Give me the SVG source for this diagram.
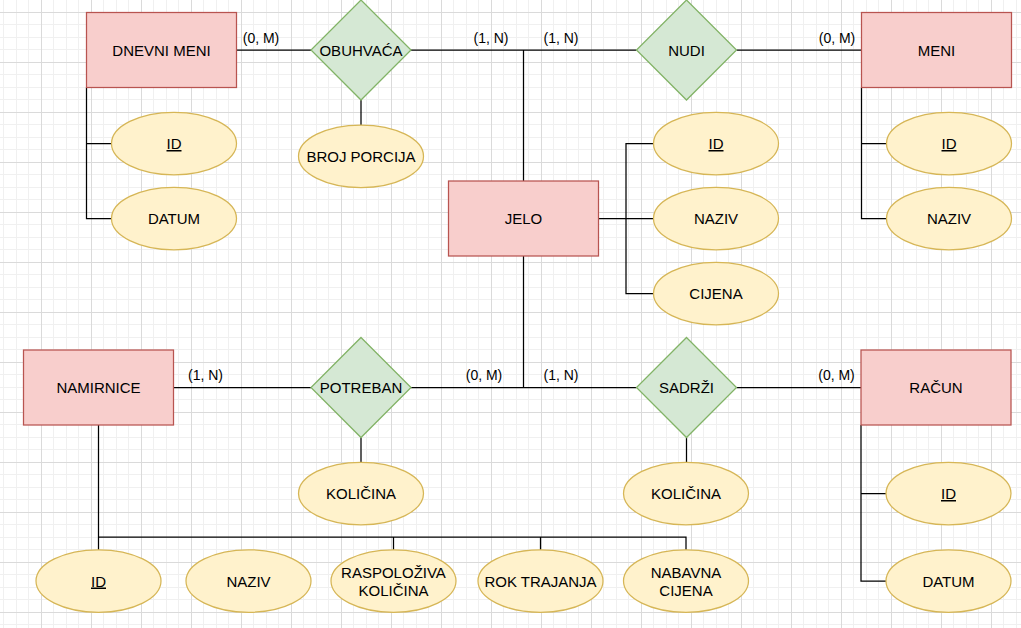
<svg xmlns="http://www.w3.org/2000/svg" width="1021" height="628" viewBox="0 0 1021 628">
<style>
.ent{fill:#f8cecc;stroke:#b85450;stroke-width:1.25}
.rel{fill:#d5e8d4;stroke:#82b366;stroke-width:1.25}
.att{fill:#fff2cc;stroke:#d6b656;stroke-width:1.25}
.t{font-family:"Liberation Sans",Arial,sans-serif;font-size:15px;fill:#000;text-anchor:middle}
.u{text-decoration:underline}
.lbl{font-family:"Liberation Sans",Arial,sans-serif;font-size:14px;fill:#000;text-anchor:middle}
#connectors path{fill:none;stroke:#000;stroke-width:1.25}
</style>
<defs>
<pattern id="grid" patternUnits="userSpaceOnUse" x="41" y="12" width="50" height="50">
<rect x="0" y="0" width="50" height="50" fill="#ffffff"/>
<rect x="12" y="0" width="1" height="50" fill="#f0f0f0"/>
<rect x="25" y="0" width="1" height="50" fill="#f0f0f0"/>
<rect x="37" y="0" width="1" height="50" fill="#f0f0f0"/>
<rect x="0" y="12" width="50" height="1" fill="#f0f0f0"/>
<rect x="0" y="25" width="50" height="1" fill="#f0f0f0"/>
<rect x="0" y="37" width="50" height="1" fill="#f0f0f0"/>
<rect x="0" y="0" width="1" height="50" fill="#dadada"/>
<rect x="0" y="0" width="50" height="1" fill="#dadada"/>
</pattern>
</defs>
<rect x="0" y="0" width="1021" height="628" fill="url(#grid)"/>

<g id="connectors">
<path d="M86.5,87.5 V218.5 H111.5 M86.5,143.5 H111.5"/>
<path d="M236.5,50 H311"/>
<path d="M361,100 V125"/>
<path d="M411,50 H636.5 M523.5,50 V181"/>
<path d="M736.5,50 H861.5"/>
<path d="M861.5,87.5 V218.5 H886.5 M861.5,143.5 H886.5"/>
<path d="M598.5,218.5 H653.5 M626,218.5 V143.5 H653.5 M626,218.5 V293.5 H653.5"/>
<path d="M523.5,256 V387.5"/>
<path d="M173.5,387.5 H311 M411,387.5 H636.5 M736.5,387.5 H861"/>
<path d="M361,437.5 V462.5 M686.5,437.5 V462.5"/>
<path d="M861,425 V581 H886 M861,493.5 H886"/>
<path d="M98.5,425 V550 M98.5,537 H686 V550 M393.5,537 V550 M540.5,537 V550"/>
</g>

<g id="labels">
<text class="lbl" x="261" y="43">(0, M)</text>
<text class="lbl" x="491" y="43">(1, N)</text>
<text class="lbl" x="561" y="43">(1, N)</text>
<text class="lbl" x="837" y="43">(0, M)</text>
<text class="lbl" x="205.5" y="380">(1, N)</text>
<text class="lbl" x="484" y="380">(0, M)</text>
<text class="lbl" x="561" y="380">(1, N)</text>
<text class="lbl" x="836.5" y="380">(0, M)</text>
</g>

<g id="dnevni-meni"><rect class="ent" x="86.5" y="12.5" width="150" height="75"/><text class="t" x="161.5" y="55.5">DNEVNI MENI</text></g>
<g id="obuhvaca"><polygon class="rel" points="361,0 411,50 361,100 311,50"/><text class="t" x="361" y="55.5">OBUHVAĆA</text></g>
<g id="broj-porcija"><ellipse class="att" cx="361" cy="156.25" rx="62.5" ry="31.25"/><text class="t" x="361" y="161.5">BROJ PORCIJA</text></g>
<g id="dm-id"><ellipse class="att" cx="174" cy="143.5" rx="62.5" ry="31.25"/><text class="t u" x="174" y="149">ID</text></g>
<g id="dm-datum"><ellipse class="att" cx="174" cy="218.5" rx="62.5" ry="31.25"/><text class="t" x="174" y="224">DATUM</text></g>

<g id="nudi"><polygon class="rel" points="686.5,0 736.5,50 686.5,100 636.5,50"/><text class="t" x="686.5" y="55.5">NUDI</text></g>
<g id="meni"><rect class="ent" x="861.5" y="12.5" width="150" height="75"/><text class="t" x="936.5" y="55.5">MENI</text></g>
<g id="meni-id"><ellipse class="att" cx="949" cy="143.5" rx="62.5" ry="31.25"/><text class="t u" x="949" y="149">ID</text></g>
<g id="meni-naziv"><ellipse class="att" cx="949" cy="218.5" rx="62.5" ry="31.25"/><text class="t" x="949" y="224">NAZIV</text></g>

<g id="jelo"><rect class="ent" x="448.5" y="181" width="150" height="75"/><text class="t" x="523.5" y="224">JELO</text></g>
<g id="jelo-id"><ellipse class="att" cx="716" cy="143.5" rx="62.5" ry="31.25"/><text class="t u" x="716" y="149">ID</text></g>
<g id="jelo-naziv"><ellipse class="att" cx="716" cy="218.5" rx="62.5" ry="31.25"/><text class="t" x="716" y="224">NAZIV</text></g>
<g id="jelo-cijena"><ellipse class="att" cx="716" cy="293.5" rx="62.5" ry="31.25"/><text class="t" x="716" y="299">CIJENA</text></g>

<g id="namirnice"><rect class="ent" x="23.5" y="350" width="150" height="75"/><text class="t" x="98.5" y="393">NAMIRNICE</text></g>
<g id="potreban"><polygon class="rel" points="361,337.5 411,387.5 361,437.5 311,387.5"/><text class="t" x="361" y="393">POTREBAN</text></g>
<g id="kolicina1"><ellipse class="att" cx="361" cy="493.5" rx="62.5" ry="31.25"/><text class="t" x="361" y="499">KOLIČINA</text></g>
<g id="sadrzi"><polygon class="rel" points="686.5,337.5 736.5,387.5 686.5,437.5 636.5,387.5"/><text class="t" x="686.5" y="393">SADRŽI</text></g>
<g id="kolicina2"><ellipse class="att" cx="686" cy="493.5" rx="62.5" ry="31.25"/><text class="t" x="686" y="499">KOLIČINA</text></g>
<g id="racun"><rect class="ent" x="861" y="350" width="150" height="75"/><text class="t" x="936" y="393">RAČUN</text></g>
<g id="racun-id"><ellipse class="att" cx="948.5" cy="493.5" rx="62.5" ry="31.25"/><text class="t u" x="948.5" y="499">ID</text></g>
<g id="racun-datum"><ellipse class="att" cx="948.5" cy="581" rx="62.5" ry="31.25"/><text class="t" x="948.5" y="586.5">DATUM</text></g>

<g id="nam-id"><ellipse class="att" cx="98.5" cy="581" rx="62.5" ry="31.25"/><text class="t u" x="98.5" y="586.5">ID</text></g>
<g id="nam-naziv"><ellipse class="att" cx="248.5" cy="581" rx="62.5" ry="31.25"/><text class="t" x="248.5" y="586.5">NAZIV</text></g>
<g id="nam-raspoloziva"><ellipse class="att" cx="393.5" cy="581" rx="62.5" ry="31.25"/><text class="t" x="393.5" y="577.5">RASPOLOŽIVA</text><text class="t" x="393.5" y="595.5">KOLIČINA</text></g>
<g id="nam-rok"><ellipse class="att" cx="540.5" cy="581" rx="62.5" ry="31.25"/><text class="t" x="540.5" y="586.5">ROK TRAJANJA</text></g>
<g id="nam-nabavna"><ellipse class="att" cx="686" cy="581" rx="62.5" ry="31.25"/><text class="t" x="686" y="577.5">NABAVNA</text><text class="t" x="686" y="595.5">CIJENA</text></g>
</svg>
